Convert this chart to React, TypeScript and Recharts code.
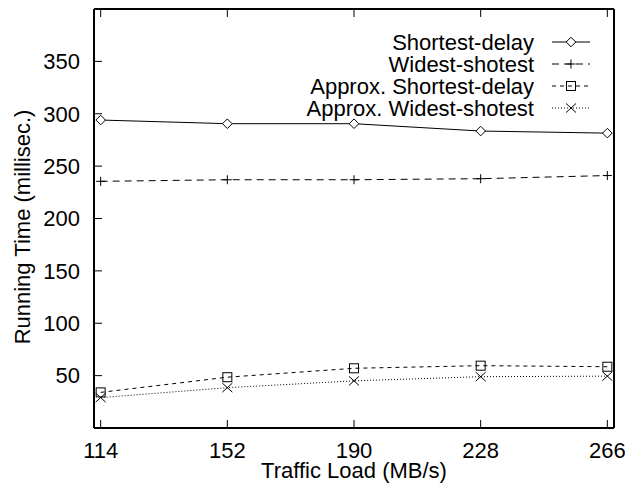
import React from 'react';
import { LineChart, Line, XAxis, YAxis, Legend } from 'recharts';

const FONT = '"Liberation Sans", Arial, Helvetica, sans-serif';
const FS = 22;

const categories = [114, 152, 190, 228, 266];
const shortestDelay = [294, 290.5, 290.5, 283.5, 281.5];
const widestShotest = [235.5, 237, 237, 238, 241];
const approxShortestDelay = [34, 48.5, 57, 59.5, 58.5];
const approxWidestShotest = [29, 38.5, 45, 49, 49.5];
const yTicks = [50, 100, 150, 200, 250, 300, 350];

const seriesNames = ['Shortest-delay', 'Widest-shotest', 'Approx. Shortest-delay', 'Approx. Widest-shotest'];

const data = categories.map((c, i) => ({
  x: c,
  sd: shortestDelay[i],
  ws: widestShotest[i],
  asd: approxShortestDelay[i],
  aws: approxWidestShotest[i],
}));

type Shape = 'diamond' | 'plus' | 'square' | 'cross';

function Marker({ cx, cy, shape }: { cx: number; cy: number; shape: Shape }) {
  if (cx == null || cy == null) return null;
  const s = { stroke: '#000', strokeWidth: 1, fill: 'none' };
  if (shape === 'diamond') {
    const r = 4.8;
    return <path d={`M${cx},${cy - r}L${cx + r},${cy}L${cx},${cy + r}L${cx - r},${cy}Z`} {...s} fill="#fff" />;
  }
  if (shape === 'plus') {
    const r = 4.5;
    return <path d={`M${cx - r},${cy}H${cx + r}M${cx},${cy - r}V${cy + r}`} {...s} />;
  }
  if (shape === 'square') {
    const r = 4.5;
    return <rect x={cx - r} y={cy - r} width={2 * r} height={2 * r} {...s} />;
  }
  const r = 5;
  return <path d={`M${cx - r},${cy - r * 0.9}L${cx + r},${cy + r * 0.9}M${cx - r},${cy + r * 0.9}L${cx + r},${cy - r * 0.9}`} {...s} />;
}

const styles: { key: string; dash?: string; shape: Shape }[] = [
  { key: 'sd', dash: undefined, shape: 'diamond' },
  { key: 'ws', dash: '7 5', shape: 'plus' },
  { key: 'asd', dash: '4 4', shape: 'square' },
  { key: 'aws', dash: '1 2', shape: 'cross' },
];

function LegendBox() {
  return (
    <svg width={625} height={130} style={{ display: 'block' }}>
      {styles.map((st, i) => {
        const y = 42 + i * 22;
        return (
          <g key={st.key}>
            <text x={534} y={y} dy="0.36em" textAnchor="end" fontFamily={FONT} fontSize={FS} fill="#000">
              {seriesNames[i]}
            </text>
            <line x1={552} x2={590} y1={y} y2={y} stroke="#000" strokeWidth={1} strokeDasharray={st.dash} />
            <Marker cx={571} cy={y} shape={st.shape} />
          </g>
        );
      })}
    </svg>
  );
}

const tickStyle = { fill: '#000', fontSize: FS, fontFamily: FONT };
const axisLine = { stroke: '#000', strokeWidth: 2 };
const tickLine = { stroke: '#000', strokeWidth: 1 };

export default function App() {
  return (
    <div style={{ position: 'absolute', left: 0, top: 0, width: 625, height: 487 }}>
      <LineChart width={625} height={487} data={data} margin={{ top: 8, right: 10, bottom: 0, left: 8 }}>
        <XAxis
          xAxisId="b"
          dataKey="x"
          type="number"
          domain={[112, 268]}
          ticks={categories}
          height={59}
          tickSize={-8}
          tickMargin={22}
          axisLine={axisLine}
          tickLine={tickLine}
          tick={tickStyle}
          label={{ value: 'Traffic Load (MB/s)', position: 'insideBottom', offset: 9, fill: '#000', fontSize: FS, fontFamily: FONT }}
        />
        <XAxis
          xAxisId="t"
          orientation="top"
          dataKey="x"
          type="number"
          domain={[112, 268]}
          ticks={categories}
          height={1}
          tickSize={-8}
          axisLine={axisLine}
          tickLine={tickLine}
          tick={() => <g />}
        />
        <YAxis
          yAxisId="l"
          type="number"
          domain={[0, 400]}
          ticks={yTicks}
          width={86}
          tickSize={-8}
          tickMargin={22}
          axisLine={axisLine}
          tickLine={tickLine}
          tick={tickStyle}
          label={{
            content: () => (
              <text x={30} y={227} transform="rotate(-90 30 227)" textAnchor="middle" fontFamily={FONT} fontSize={FS} fill="#000">
                Running Time (millisec.)
              </text>
            ),
          }}
        />
        <YAxis
          yAxisId="r"
          orientation="right"
          type="number"
          domain={[0, 400]}
          ticks={yTicks}
          width={1}
          tickSize={-8}
          axisLine={axisLine}
          tickLine={tickLine}
          tick={() => <g />}
        />
        <Legend
          layout="horizontal"
          align="center"
          verticalAlign="middle"
          content={() => <LegendBox />}
          wrapperStyle={{ position: 'absolute', top: 0, left: 0, width: 625, height: 130 }}
        />
        {styles.map((st) => (
          <Line
            key={st.key}
            xAxisId="b"
            yAxisId="l"
            dataKey={st.key}
            type="linear"
            stroke="#000"
            strokeWidth={1}
            strokeDasharray={st.dash}
            isAnimationActive={false}
            dot={(p: any) => <Marker key={`${st.key}-${p.index}`} cx={p.cx} cy={p.cy} shape={st.shape} />}
            activeDot={false}
          />
        ))}
      </LineChart>
    </div>
  );
}
